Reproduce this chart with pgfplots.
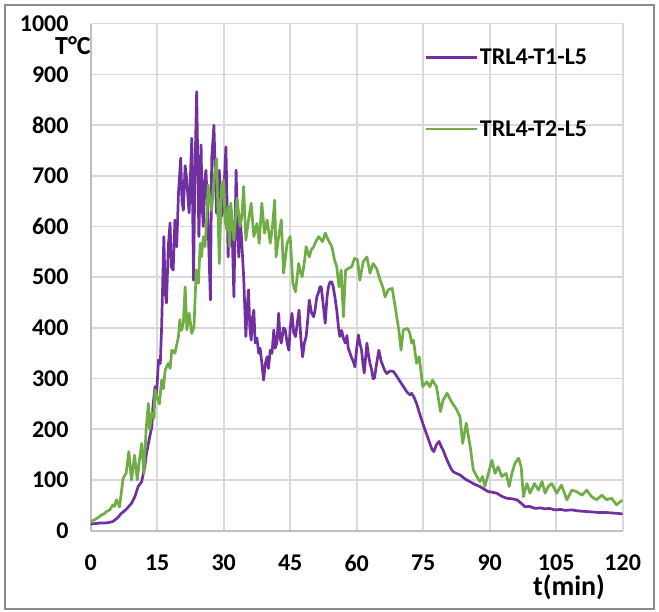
\documentclass[border=0pt]{standalone}
\usepackage{fontspec}
\setmainfont{Carlito}
\usepackage{pgfplots}
\pgfplotsset{compat=1.18}

\definecolor{tpurple}{HTML}{7030A0}
\definecolor{tgreen}{HTML}{70AD47}
\definecolor{gridgray}{HTML}{D9D9D9}
\definecolor{axisgray}{HTML}{BFBFBF}
\definecolor{framegray}{HTML}{8C8C8C}

\begin{document}
\begin{tikzpicture}[font=\fontsize{24}{28}\selectfont\bfseries]
\begin{axis}[
  at={(0,0)}, anchor=south west,
  scale only axis, width=532pt, height=507pt,
  xmin=0, xmax=120, ymin=0, ymax=1000,
  xtick={0,15,...,120}, ytick={0,100,...,1000},
  grid=major, major grid style={gridgray, line width=1.6pt},
  major tick length=0pt,
  axis x line*=bottom, axis y line*=left,
  axis line style={-, axisgray, line width=1.8pt},
  /pgf/number format/assume math mode=true,
  /pgf/number format/1000 sep={},
  tick label style={font=\fontsize{24}{28}\selectfont\bfseries, inner sep=0pt},
  yticklabel style={anchor=east, xshift=-22pt},
  xticklabel style={anchor=north, yshift=-24pt},
  legend style={draw=none, fill=none, inner sep=0pt, row sep=50pt,
    at={(axis cs:75.2,954)}, anchor=north west,
    font=\fontsize{24}{28}\selectfont\bfseries},
  legend cell align=left,
  legend image code/.code={\draw[#1, line width=2.7pt] (0pt,0pt) -- (51pt,0pt);},
  every axis plot/.append style={line width=2.7pt, line join=round},
]

% Furnace thermocouple, position T1
\addplot[tpurple] coordinates {
(0,13) (1,14) (2,15) (3,15) (4,16) (5,18) (6,25) (6.9,34) (8,42) (9.2,54)
(10,68) (10.7,87) (11.5,97) (12.2,126) (12.6,153) (13.3,185) (13.8,205)
(14.0,240) (14.5,284) (14.8,260) (15.3,337) (15.7,330) (16.0,402) (16.5,580)
(16.8,470) (17.1,449) (17.5,560) (17.9,607) (18.2,520) (18.6,514) (19.0,613)
(19.4,560) (19.8,666) (20.3,735) (20.6,650) (20.9,632) (21.3,720) (21.6,698)
(22.0,650) (22.2,627) (22.5,700) (22.8,774) (23.2,494) (23.5,700) (23.9,866)
(24.2,700) (24.4,580) (24.9,761) (25.1,650) (25.4,600) (25.7,690) (26.0,711)
(26.5,600) (27.0,455) (27.3,735) (27.8,800) (28.1,700) (28.4,626) (28.7,680)
(29.0,711) (29.5,620) (29.9,632) (30.2,700) (30.5,757) (31.0,540) (31.3,620)
(31.7,632) (32.0,560) (32.3,461) (32.8,711) (33.1,600) (33.4,540) (33.7,620)
(34.0,580) (34.5,501) (35.0,383) (35.3,440) (35.6,475) (35.9,400) (36.2,376)
(36.5,420) (36.8,435) (37.1,370) (37.5,380) (37.9,350) (38.2,360) (38.6,331)
(39.0,297) (39.4,330) (39.8,343) (40.1,320) (40.5,356) (40.9,350) (41.3,396)
(41.6,360) (42.0,370) (42.4,429) (42.7,380) (43.0,370) (43.5,400) (43.9,396)
(44.3,370) (44.7,356) (45.0,400) (45.4,429) (45.8,390) (46.2,383) (46.6,410)
(47.0,435) (47.4,380) (47.8,343) (48.2,370) (48.6,383) (49.0,420) (49.3,455)
(49.8,430) (50.3,422) (50.6,435) (51.0,461) (51.4,470) (51.7,481) (52.0,481)
(52.4,450) (52.9,409) (53.3,460) (53.6,480) (54.0,491) (54.4,490) (54.7,481)
(55.1,460) (55.5,435) (55.9,400) (56.2,383) (56.6,395) (57.0,380) (57.4,370)
(57.8,385) (58.1,360) (58.5,350) (58.9,340) (59.2,335) (59.6,323) (60.0,360)
(60.4,386) (60.7,370) (61.1,356) (61.4,330) (61.7,311) (62.0,340) (62.3,370)
(62.6,350) (63.0,330) (63.3,320) (63.7,300) (64.0,301) (64.5,330) (65.0,356)
(65.5,335) (66.0,323) (66.4,315) (66.8,310) (67.5,315) (68.3,314) (69.0,305)
(69.8,294) (70.5,285) (71.3,274) (72.0,268) (72.4,271) (73.0,262) (73.5,251)
(74.3,228) (75.4,199) (76.0,185) (76.5,172) (77.0,160) (77.4,156) (78.0,170)
(78.6,176) (79.1,165) (79.5,159) (80.1,145) (80.7,133) (81.3,122) (81.8,116)
(82.5,113) (83.3,110) (84.0,105) (84.8,100) (85.5,97) (86.3,93) (87.0,90)
(87.8,87) (88.7,82) (89.7,77) (90.5,76) (91.6,74) (92.7,68) (93.8,64)
(95.0,63) (96.1,61) (97.0,55) (98.0,47) (99.0,48) (100.2,44) (101.5,45)
(102.5,43) (103.5,44) (104.7,41) (106.0,42) (107.0,40) (108.5,41) (110.0,39)
(111.5,38) (113.0,37) (114.5,36) (116.0,36) (117.5,35) (119.0,34) (120.0,33)
};
\addlegendentry{TRL4-T1-L5}

% Furnace thermocouple, position T2
\addplot[tgreen] coordinates {
(0,18) (1,22) (2,28) (2.4,31) (3,33) (3.6,38) (4.3,41) (5.0,51) (5.4,48)
(5.8,61) (6.5,47) (7.3,103) (8.0,114) (8.6,156) (9.2,100) (9.9,149) (10.5,100)
(11.0,140) (11.5,172) (12.0,113) (12.5,199) (13.0,251) (13.3,200) (13.8,232)
(14.3,222) (14.5,278) (15.2,258) (15.5,250) (16.0,297) (16.4,280) (16.8,317)
(17.5,330) (17.9,320) (18.3,356) (19.0,350) (19.8,383) (20.1,416) (20.5,395)
(20.9,409) (21.3,481) (21.7,396) (22.2,429) (22.8,389) (23.3,402) (23.8,514)
(24.3,488) (24.7,567) (25.0,540) (25.4,580) (25.8,560) (26.2,626) (26.5,682)
(26.9,650) (27.3,632) (27.8,692) (28.4,734) (29.0,527) (29.5,679) (30.0,692)
(30.3,613) (30.7,593) (31.0,640) (31.3,560) (31.6,646) (32.3,573) (33.0,656)
(33.7,600) (34.1,620) (34.5,679) (35.0,573) (35.6,613) (36.2,646) (36.8,580)
(37.5,606) (38.0,567) (38.6,646) (39.2,587) (39.8,613) (40.5,567) (41.0,600)
(41.5,652) (41.8,540) (42.4,580) (43.0,613) (43.5,508) (44.3,567) (45.0,580)
(45.6,488) (46.2,471) (46.9,527) (47.3,510) (47.7,501) (48.2,530) (48.6,560)
(49.3,540) (49.8,555) (50.3,560) (50.6,567) (51.4,580) (51.7,577) (52.3,570)
(52.9,587) (53.6,573) (54.4,560) (55.0,534) (55.5,521) (56.0,481) (56.5,514)
(57.0,422) (57.5,514) (58.1,517) (58.9,521) (59.5,537) (60.2,534) (60.7,494)
(61.5,531) (62.3,540) (63.0,508) (63.7,527) (64.5,517) (65.3,494) (65.9,480)
(66.4,461) (67.1,475) (68.0,478) (68.8,435) (69.5,396) (70.0,356) (70.5,396)
(71.5,399) (72.0,389) (72.4,370) (72.8,376) (73.5,330) (74.1,343) (74.9,284)
(75.8,294) (76.5,284) (77.1,297) (78.0,284) (78.9,235) (79.5,258) (80.4,271)
(81.4,254) (82.6,238) (83.3,225) (83.9,172) (84.7,212) (85.6,166) (86.3,120)
(87.1,107) (87.8,97) (88.4,107) (88.9,87) (89.7,113) (90.5,139) (91.2,113)
(91.9,126) (92.7,107) (93.7,113) (94.4,87) (95.0,113) (95.7,133) (96.5,143)
(97.1,126) (97.6,67) (98.4,93) (99.1,74) (100.1,93) (101.0,80) (101.8,97)
(102.5,74) (103.2,87) (104.0,93) (105.1,74) (106.2,90) (107.4,61) (108.5,80)
(109.6,77) (110.8,70) (111.9,80) (113.0,67) (114.1,61) (115.3,70) (116.4,61)
(117.5,64) (118.6,51) (119.4,57) (120,60)
};
\addlegendentry{TRL4-T2-L5}
\end{axis}

% axis titles
\node[anchor=base, font=\fontsize{26}{30}\selectfont\bfseries] at (-17.7pt,475.7pt) {T°C};
\node[anchor=base, font=\fontsize{28}{32}\selectfont\bfseries] at (478.3pt,-65.3pt) {t(min)};

% chart frame
\draw[framegray, line width=1.3pt] (-85.7pt,-78.3pt) rectangle (563.3pt,525.7pt);

\pgfresetboundingbox
\path[use as bounding box] (-90.7pt,-81.3pt) rectangle (568.3pt,530.7pt);
\end{tikzpicture}
\end{document}
